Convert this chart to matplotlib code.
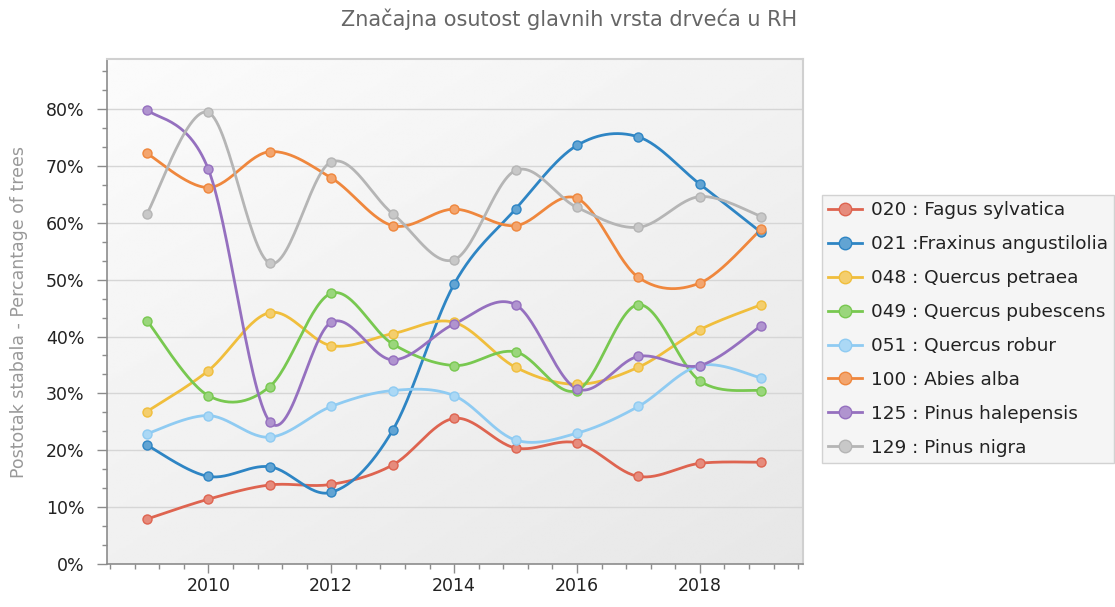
import numpy as np
import matplotlib
matplotlib.use("Agg")
import matplotlib.pyplot as plt
from matplotlib.ticker import MultipleLocator, FuncFormatter
from matplotlib.lines import Line2D
from matplotlib.colors import to_rgb

# ----------------- Datos -----------------
godine = [2009, 2010, 2011, 2012, 2013, 2014, 2015, 2016, 2017, 2018, 2019]

fagus = [7.9, 11.4, 13.9, 14.0, 17.4, 25.6, 20.4, 21.3, 15.4, 17.7, 17.9]
fraxinus = [20.9, 15.4, 17.1, 12.6, 23.5, 49.2, 62.4, 73.6, 75.1, 66.8, 58.3]
q_petraea = [26.8, 34.0, 44.2, 38.4, 40.5, 42.5, 34.6, 31.6, 34.6, 41.2, 45.6]
q_pubescens = [42.8, 29.6, 31.2, 47.6, 38.7, 34.9, 37.3, 30.5, 45.6, 32.2, 30.5]
q_robur = [22.9, 26.1, 22.3, 27.7, 30.5, 29.6, 21.8, 23.0, 27.7, 34.9, 32.7]
abies = [72.2, 66.2, 72.5, 67.9, 59.5, 62.4, 59.5, 64.3, 50.4, 49.4, 58.9]
p_halepensis = [79.9, 69.4, 25.0, 42.5, 35.9, 42.2, 45.6, 30.8, 36.5, 34.9, 41.9]
p_nigra = [61.6, 79.4, 52.9, 70.7, 61.6, 53.5, 69.2, 62.7, 59.2, 64.6, 61.1]

nazivi = ["020 : Fagus sylvatica", "021 :Fraxinus angustilolia", "048 : Quercus petraea",
          "049 : Quercus pubescens", "051 : Quercus robur", "100 : Abies alba",
          "125 : Pinus halepensis", "129 : Pinus nigra"]
serije = [fagus, fraxinus, q_petraea, q_pubescens, q_robur, abies, p_halepensis, p_nigra]
boje = ["#DE6450", "#2E85C4", "#F0BE3C", "#78C850", "#8FCBF2", "#EF873D", "#9570BF", "#B5B5B5"]


def catmull_rom(x, y, n=30):
    # suaviza la linea entre puntos (estilo spline)
    x = np.asarray(x, float)
    y = np.asarray(y, float)
    px = np.concatenate([[x[0]], x, [x[-1]]])
    py = np.concatenate([[y[0]], y, [y[-1]]])
    xs, ys = [], []
    for i in range(1, len(px) - 2):
        t = np.linspace(0, 1, n, endpoint=False)
        for arr, out in ((px, xs), (py, ys)):
            p0, p1, p2, p3 = arr[i - 1], arr[i], arr[i + 1], arr[i + 2]
            out.extend(0.5 * ((2 * p1) + (-p0 + p2) * t
                              + (2 * p0 - 5 * p1 + 4 * p2 - p3) * t ** 2
                              + (-p0 + 3 * p1 - 3 * p2 + p3) * t ** 3))
    xs.append(x[-1])
    ys.append(y[-1])
    return np.array(xs), np.array(ys)


def aclarar(c, f=0.25):
    r, g, b = to_rgb(c)
    return (r + (1 - r) * f, g + (1 - g) * f, b + (1 - b) * f)


plt.rcParams['font.family'] = ['DejaVu Sans']

fig = plt.figure(figsize=(11.15, 6.07), dpi=100)
ax = fig.add_axes([107 / 1115, 1 - 564 / 607, (803 - 107) / 1115, (564 - 59) / 607])

x_min, x_max = 2008.35, 2019.68
y_min, y_max = 0, 88.8

# fondo degradado (claro arriba a la izquierda, mas oscuro abajo a la derecha)
gx, gy = np.meshgrid(np.linspace(0, 1, 200), np.linspace(0, 1, 200))
grad = 0.985 - 0.08 * (0.45 * gx + 0.55 * gy)
ax.imshow(grad, cmap="gray", vmin=0, vmax=1, extent=[x_min, x_max, y_min, y_max],
          origin="upper", aspect="auto", zorder=0, interpolation="bilinear")

for vrijednosti, boja, naziv in zip(serije, boje, nazivi):
    sx, sy = catmull_rom(godine, vrijednosti)
    ax.plot(sx, sy, color=boja, lw=2.0, zorder=3, solid_capstyle="round")
    ax.plot(godine, vrijednosti, ls="none", marker="o", ms=6.5,
            mfc=aclarar(boja), mec=boja, mew=1.0, zorder=4)

ax.set_xlim(x_min, x_max)
ax.set_ylim(y_min, y_max)

ax.yaxis.set_major_locator(MultipleLocator(10))
ax.yaxis.set_minor_locator(MultipleLocator(10 / 3))
ax.yaxis.set_major_formatter(FuncFormatter(lambda v, p: f"{v:.0f}%"))
ax.xaxis.set_major_locator(MultipleLocator(2))
ax.xaxis.set_minor_locator(MultipleLocator(0.4))
ax.xaxis.set_major_formatter(FuncFormatter(lambda v, p: f"{v:.0f}"))

ax.grid(axis="y", which="major", color="#d6d6d6", lw=1.0, zorder=1)
ax.set_axisbelow(True)

for s in ["left", "bottom"]:
    ax.spines[s].set_color("#8c8c8c")
    ax.spines[s].set_linewidth(1.2)
for s in ["right", "top"]:
    ax.spines[s].set_color("#d0d0d0")
    ax.spines[s].set_linewidth(1.5)

ax.tick_params(axis="both", which="major", width=1.0, color="#8c8c8c",
               labelsize=12.5, labelcolor="#222222")
ax.tick_params(axis="both", which="minor", width=1.0, color="#8c8c8c")
ax.tick_params(axis="y", which="major", length=7.2, pad=9)
ax.tick_params(axis="y", which="minor", length=3.6)
ax.tick_params(axis="x", which="major", length=6.5, pad=3)
ax.tick_params(axis="x", which="minor", length=3.3)

ax.set_ylabel("Postotak stabala - Percantage of trees", color="#999999", fontsize=12.5)
ax.yaxis.set_label_coords(-0.113, 0.5)
fig.text(569 / 1115, 1 - 19 / 607, "Značajna osutost glavnih vrsta drveća u RH",
         ha="center", va="center", fontsize=15, color="#666666")

ruke = [Line2D([0], [0], color=b, lw=2.0, marker="o", ms=9, mfc=aclarar(b), mec=b)
        for b in boje]
leg = fig.legend(ruke, nazivi, loc="upper left", bbox_to_anchor=(822 / 1115, 1 - 195 / 607),
                 fontsize=13.3, frameon=True, fancybox=False, labelspacing=0.86,
                 handlelength=1.8, handletextpad=0.5, borderpad=0.35, borderaxespad=0)
leg.get_frame().set_facecolor("#f3f3f3")
leg.get_frame().set_edgecolor("#c8c8c8")
for t in leg.get_texts():
    t.set_color("#222222")

fig.savefig("out.png", dpi=100)
